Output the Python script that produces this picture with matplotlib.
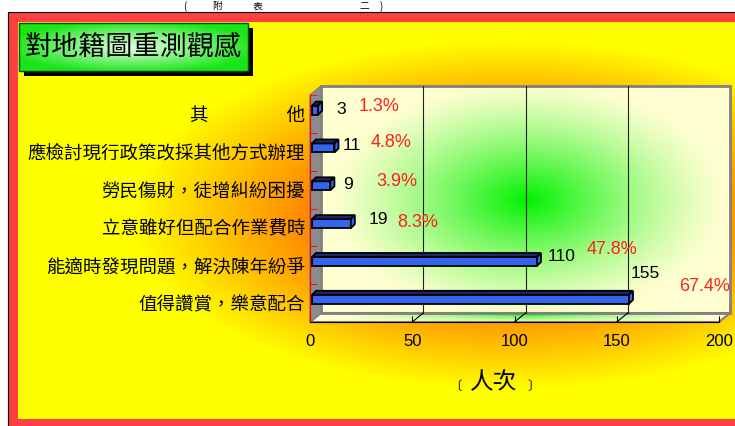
import numpy as np
import matplotlib.pyplot as plt
from matplotlib.patches import Rectangle, Polygon

plt.rcParams['font.family'] = ['Noto Sans CJK TC', 'DejaVu Sans']

# data (top to bottom as in the chart)
categories = ['其　　　　 他', '應檢討現行政策改採其他方式辦理', '勞民傷財，徒增糾紛困擾',
              '立意雖好但配合作業費時', '能適時發現問題，解決陳年紛爭', '值得讚賞，樂意配合']
counts = [3, 11, 9, 19, 110, 155]
percents = ['1.3%', '4.8%', '3.9%', '8.3%', '47.8%', '67.4%']
xticks = [0, 50, 100, 150, 200]
title = '對地籍圖重測觀感'
xlabel = '人次'

# label nudges in pixels (dx, dy) from the bar end
count_off = [(20, 1), (10, 2), (15, 1), (20, 4), (13, 5), (4, 26)]
pct_off = [(42, 4), (38, 5), (48, 4), (48, 1), (52, 12), (52, 13)]

W, H = 735, 426
fig = plt.figure(figsize=(W / 100, H / 100), dpi=100)
fig.patch.set_facecolor('white')

# background layer in pixel coords
bg = fig.add_axes([0, 0, 1, 1])
bg.axis('off')

# header text at the very top
for ch, xc in [('(', 185), ('附', 217), ('表', 258), ('二', 364), (')', 381)]:
    bg.text(xc, 1, ch, fontsize=7, ha='center', va='top', color='black', zorder=9)

# red frame + orange/yellow gradient
bg.add_patch(Rectangle((8, 12), 740, 420, fc='#FF4040', ec='black', lw=0.8, zorder=1))
xs = np.arange(18, W) + 0.5
ys = np.arange(22, 419) + 0.5
xx, yy = np.meshgrid(xs, ys)
r = np.sqrt(((xx - 510) / 380) ** 2 + ((yy - 215) / 175) ** 2)
g = np.clip(r, 0.35, 1.0)
img = np.dstack([np.ones_like(r), g, np.zeros_like(r)])
bg.imshow(img, extent=(18, W, 419, 22), aspect='auto', interpolation='bilinear', zorder=2)

# plot geometry (front plane) in pixels
x0p, x1p, ytp, ybp = 310, 719, 95, 322
ddx, ddy = 11, 9

# back wall with green glow
xs = np.arange(x0p + ddx, x1p + ddx) + 0.5
ys = np.arange(ytp - ddy, ybp - ddy) + 0.5
xx, yy = np.meshgrid(xs, ys)
r = np.sqrt(((xx - 527) / 200) ** 2 + ((yy - 200) / 120) ** 2)
w = np.clip(1 - r, 0, 1) ** 1.3
cream = np.array([1.0, 1.0, 0.82])
green = np.array([0.0, 0.95, 0.0])
wall = cream * (1 - w[..., None]) + green * w[..., None]
bg.imshow(wall, extent=(x0p + ddx, x1p + ddx, ybp - ddy, ytp - ddy), aspect='auto', zorder=3)
bg.add_patch(Rectangle((x0p + ddx, ytp - ddy), x1p - x0p, ybp - ytp, fill=False,
                       ec='#808080', lw=2, zorder=4))

# floor
floor = Polygon([(x0p, ybp), (x1p, ybp), (x1p + ddx, ybp - ddy), (x0p + ddx, ybp - ddy)],
                closed=True, fc='none', ec='#808080', lw=1.5, zorder=4)
bg.add_patch(floor)
xs = np.arange(x0p, x1p + ddx) + 0.5
ys = np.arange(ybp - ddy, ybp) + 0.5
xx, yy = np.meshgrid(xs, ys)
wf = np.clip(1 - np.abs(xx - 527) / 200, 0, 1) ** 1.3 * np.clip((ybp - yy) / ddy, 0, 1)
fl = cream * (1 - wf[..., None]) + green * wf[..., None]
im = bg.imshow(fl, extent=(x0p, x1p + ddx, ybp, ybp - ddy), aspect='auto', zorder=3)
im.set_clip_path(floor)

# left side wall
bg.add_patch(Polygon([(x0p, ytp), (x0p + ddx, ytp - ddy), (x0p + ddx, ybp - ddy), (x0p, ybp)],
                     closed=True, fc='#8C8C8C', ec='#808080', lw=1, zorder=5))

# title box
bg.add_patch(Rectangle((24, 28), 229, 48, fc='black', ec='none', zorder=5))
xs = np.arange(19, 248) + 0.5
ys = np.arange(23, 71) + 0.5
xx, yy = np.meshgrid(xs, ys)
r = np.clip(np.sqrt(((xx - 133) / 125) ** 2 + ((yy - 47) / 26) ** 2), 0, 1)
tb = np.array([0.9, 1.0, 0.9]) * (1 - r[..., None]) + np.array([0.1, 0.9, 0.1]) * r[..., None]
bg.imshow(tb, extent=(19, 248, 71, 23), aspect='auto', zorder=6)
bg.add_patch(Rectangle((19, 23), 229, 48, fill=False, ec='#005000', lw=1, zorder=7))
bg.text(133, 47, title, fontsize=19.5, ha='center', va='center', color='black', zorder=8)

# axis title
bg.text(494, 383, xlabel, fontsize=17, ha='center', va='center', color='black', zorder=8)
bg.text(455, 386, '〔', fontsize=9, ha='center', va='center', zorder=8)
bg.text(534, 386, '〕', fontsize=9, ha='center', va='center', zorder=8)

bg.set_xlim(0, W)
bg.set_ylim(H, 0)

# main axes = front plane
ax = fig.add_axes([x0p / W, 1 - ybp / H, (x1p - x0p) / W, (ybp - ytp) / H])
ax.set_xlim(0, 200)
ax.set_ylim(-0.5, 5.5)
ax.patch.set_visible(False)
sx = 200 / (x1p - x0p)
sy = 6 / (ybp - ytp)

n = len(categories)
pos = [n - 1 - k for k in range(n)]

# back wall gridlines and floor diagonals
for v in xticks[1:-1]:
    ax.plot([v + ddx * sx] * 2, [-0.5 + ddy * sy, 5.5 + ddy * sy], color='#202020', lw=0.8,
            clip_on=False, zorder=1)
    ax.plot([v, v + ddx * sx], [-0.5, -0.5 + ddy * sy], color='black', lw=0.8,
            clip_on=False, zorder=1)

# 3D bars
h = 9 * sy
bdx, bdy = 4 * sx, 4 * sy
shift = 2 * sx
for k in range(n):
    yc = pos[k] + 0.1
    xs0, xe = shift, counts[k] + shift
    yb, yt = yc - h / 2, yc + h / 2
    faces = [
        ([(xs0, yb), (xe, yb), (xe, yt), (xs0, yt)], '#3366EE'),
        ([(xs0, yt), (xe, yt), (xe + bdx, yt + bdy), (xs0 + bdx, yt + bdy)], '#182868'),
        ([(xe, yb), (xe + bdx, yb + bdy), (xe + bdx, yt + bdy), (xe, yt)], '#3366EE'),
    ]
    for verts, c in faces:
        ax.add_patch(Polygon(verts, closed=True, fc=c, ec='black', lw=1.3,
                             joinstyle='miter', clip_on=False, zorder=3))
    ax.annotate(str(counts[k]), xy=(counts[k], yc), xytext=count_off[k],
                textcoords='offset pixels', ha='left', va='center', fontsize=12.5,
                family='Liberation Sans', color='black', zorder=4)
    ax.annotate(percents[k], xy=(counts[k], yc), xytext=pct_off[k],
                textcoords='offset pixels', ha='left', va='center', fontsize=13,
                family='Liberation Sans', color='#FF2020', zorder=4)

ax.set_xticks(xticks)
ax.set_xticklabels([str(t) for t in xticks], family='Liberation Sans', fontsize=12)
ax.tick_params(axis='x', direction='in', length=4, pad=8.5, color='black')
ax.set_yticks(pos)
ax.set_yticklabels(categories, fontsize=13.3)
ax.set_yticks(np.arange(-0.5, 6, 1), minor=True)
ax.tick_params(axis='y', which='major', length=0, pad=3.5)
ax.tick_params(axis='y', which='minor', direction='in', length=5, color='red')
for s in ['top', 'right']:
    ax.spines[s].set_visible(False)
ax.spines['left'].set_color('red')
ax.spines['bottom'].set_color('black')

fig.savefig('out.png', dpi=100)
